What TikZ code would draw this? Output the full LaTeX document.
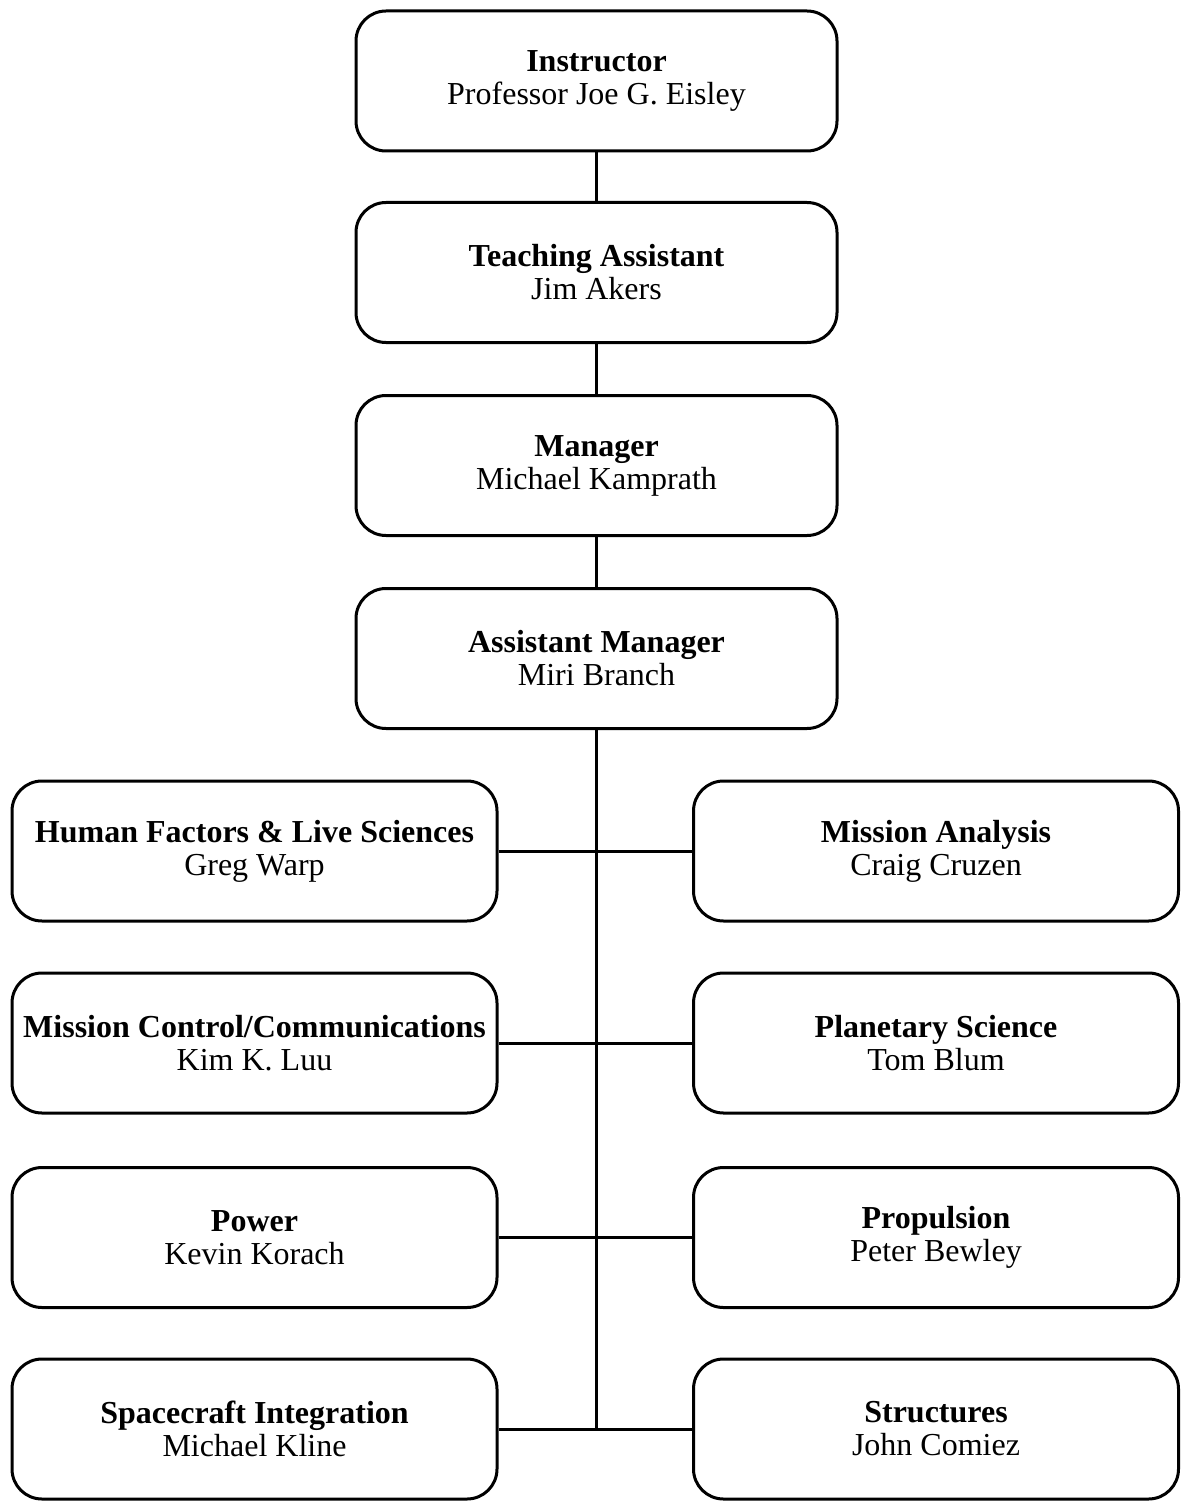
\documentclass[tikz,border=0pt]{standalone}
\usepackage{fontspec}
\setmainfont{Liberation Serif}
\begin{document}
\begin{tikzpicture}[x=1pt,y=-1pt,
  box/.style={draw=black,line width=3pt,rounded corners=30pt,align=center,
    inner sep=0pt,font=\fontsize{32}{33}\selectfont},
  topbox/.style={box,minimum width=481pt,minimum height=140pt},
  sidebox/.style={box,minimum width=485pt,minimum height=140pt},
  conn/.style={line width=3pt}]
\useasboundingbox (0,0) rectangle (1183,1503);
\node[topbox] (ins) at (596.5,81) {\textbf{Instructor}\\Professor Joe G. Eisley};
\node[topbox] (ta) at (596.5,272.5) {\textbf{Teaching Assistant}\\Jim Akers};
\node[topbox] (mgr) at (596.5,465.5) {\textbf{Manager}\\Michael Kamprath};
\node[topbox] (am) at (596.5,658.5) {\textbf{Assistant Manager}\\Miri Branch};
\node[sidebox] (hf) at (254.5,851) {\textbf{Human Factors \& Live Sciences}\\Greg Warp};
\node[sidebox] (ma) at (936,851) {\textbf{Mission Analysis}\\Craig Cruzen};
\node[sidebox] (mc) at (254.5,1043) {\textbf{Mission Control/Communications}\\Kim K. Luu};
\node[sidebox] (ps) at (936,1043) {\textbf{Planetary Science}\\Tom Blum};
\node[sidebox] (pw) at (254.5,1237.5) {\textbf{Power}\\Kevin Korach};
\node[sidebox] (pr) at (936,1237.5) {\textbf{Propulsion}\\Peter Bewley};
\node[sidebox] (sc) at (254.5,1429) {\textbf{Spacecraft Integration}\\Michael Kline};
\node[sidebox] (st) at (936,1429) {\textbf{Structures}\\John Comiez};
\coordinate (bend) at (596.5,1429);
\draw[conn] (ins) -- (ta);
\draw[conn] (ta) -- (mgr);
\draw[conn] (mgr) -- (am);
\draw[conn] (am.south) -- (bend);
\draw[conn] (hf) -- (ma);
\draw[conn] (mc) -- (ps);
\draw[conn] (pw) -- (pr);
\draw[conn] (sc) -- (st);
\end{tikzpicture}
\end{document}
